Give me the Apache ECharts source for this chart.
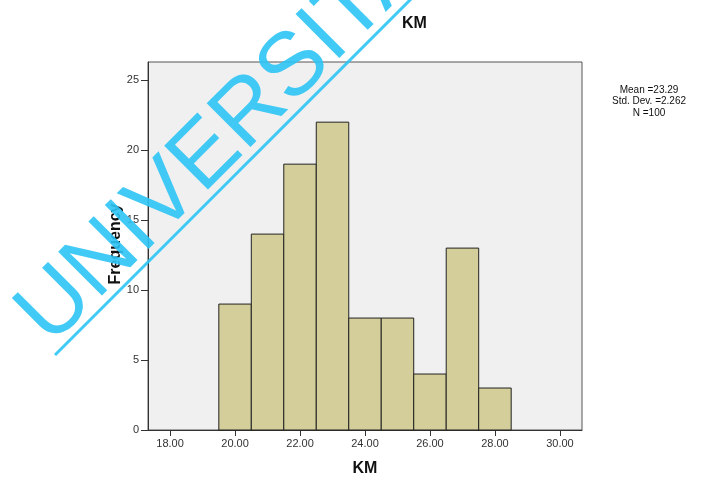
<!DOCTYPE html>
<html>
<head>
<meta charset="utf-8">
<script src="https://cdn.jsdelivr.net/npm/echarts@6/dist/echarts.min.js"></script>
<style>
  html, body { margin: 0; padding: 0; background: #fff; }
  #chart { width: 702px; height: 479px; }
</style>
</head>
<body>
<div id="chart"></div>
<script>
// histogram bins of KM (width 1)
const binStart = [19.5, 20.5, 21.5, 22.5, 23.5, 24.5, 25.5, 26.5, 27.5];
const counts = [9, 14, 19, 22, 8, 8, 4, 13, 3];
const binWidth = 1;
const xTicks = [18, 20, 22, 24, 26, 28, 30];
const yTicks = [0, 5, 10, 15, 20, 25];
const statsLines = ['Mean =23.29', 'Std. Dev. =2.262', 'N =100'];

const FONT = '"Liberation Sans", Arial, sans-serif';
const chart = echarts.init(document.getElementById('chart'));

const data = binStart.map((s, i) => [s, s + binWidth, counts[i]]);

const option = {
  animation: false,
  textStyle: { fontFamily: FONT },
  title: {
    text: 'KM',
    left: 397,
    top: 11,
    textStyle: { fontFamily: FONT, fontSize: 16, fontWeight: 'bold', color: '#111' }
  },
  grid: {
    left: 148, top: 62, width: 434, height: 368,
    show: true,
    backgroundColor: '#F0F0F0',
    borderColor: '#555',
    borderWidth: 1
  },
  xAxis: {
    type: 'value',
    min: 17.32,
    max: 30.68,
    splitLine: { show: false },
    axisLine: { lineStyle: { color: '#333' } },
    axisTick: { show: true, length: 6, customValues: xTicks, lineStyle: { color: '#333' } },
    axisLabel: {
      customValues: xTicks,
      formatter: v => v.toFixed(2),
      fontFamily: FONT, fontSize: 11, color: '#333', margin: 8
    }
  },
  yAxis: {
    type: 'value',
    min: 0,
    max: 26.3,
    splitLine: { show: false },
    axisLine: { show: true, lineStyle: { color: '#333' } },
    axisTick: { show: true, length: 7, customValues: yTicks, lineStyle: { color: '#333' } },
    axisLabel: {
      customValues: yTicks,
      fontFamily: FONT, fontSize: 11, color: '#333', margin: 9
    }
  },
  series: [{
    type: 'custom',
    data: data,
    renderItem: function (params, api) {
      const p0 = api.coord([api.value(0), 0]);
      const p1 = api.coord([api.value(1), api.value(2)]);
      return {
        type: 'rect',
        shape: { x: p0[0], y: p1[1], width: p1[0] - p0[0], height: p0[1] - p1[1] },
        style: { fill: '#D3CE9A', stroke: '#222', lineWidth: 1 }
      };
    }
  }],
  graphic: [
    // axis titles
    {
      type: 'text',
      x: 365,
      y: 469,
      style: {
        text: 'KM',
        font: 'bold 16px ' + FONT,
        fill: '#111',
        textAlign: 'center',
        textVerticalAlign: 'middle'
      }
    },
    {
      type: 'text',
      x: 116,
      y: 244,
      rotation: Math.PI / 2,
      style: {
        text: 'Frequency',
        font: 'bold 16px ' + FONT,
        fill: '#111',
        textAlign: 'center',
        textVerticalAlign: 'middle'
      }
    },
    {
      type: 'text',
      left: 612,
      top: 84,
      style: {
        text: statsLines.join('\n'),
        font: '10px ' + FONT,
        fill: '#111',
        textAlign: 'center',
        lineHeight: 11.5,
        x: 45
      }
    },
    // watermark
    {
      type: 'line',
      z: 100,
      shape: { x1: 55, y1: 355, x2: 420, y2: -10 },
      style: { stroke: '#2EC4F5', lineWidth: 3, opacity: 0.9 }
    },
    {
      type: 'text',
      z: 100,
      x: 65,
      y: 361,
      rotation: Math.PI / 4,
      style: {
        text: 'UNIVERSITAS',
        font: '90px ' + FONT,
        fill: '#2EC4F5',
        opacity: 0.9,
        textAlign: 'left',
        textVerticalAlign: 'bottom'
      }
    }
  ]
};

chart.setOption(option);
</script>
</body>
</html>
